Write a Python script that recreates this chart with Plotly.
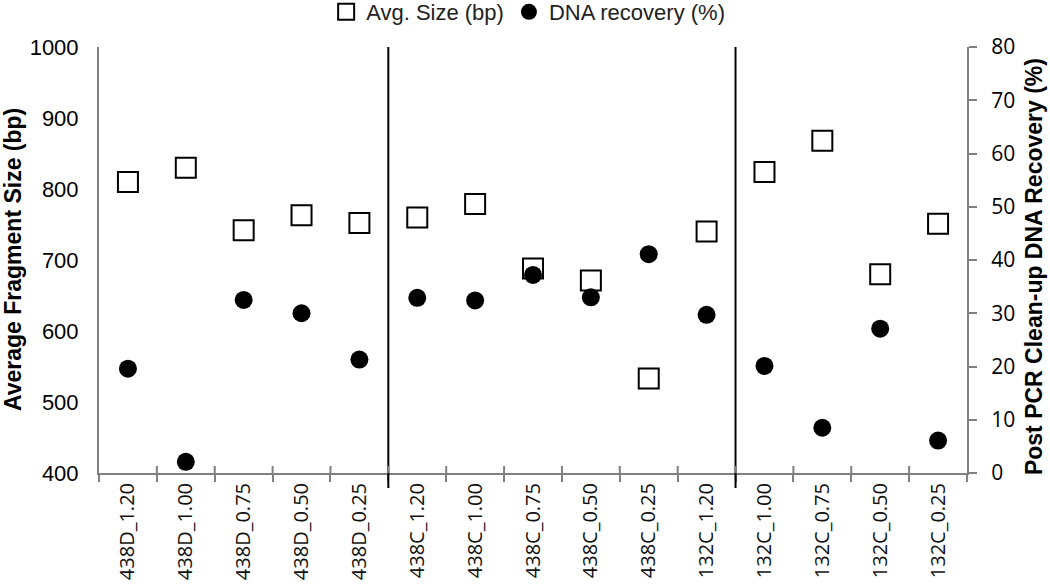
import plotly.graph_objects as go

categories = ["438D_1.20", "438D_1.00", "438D_0.75", "438D_0.50", "438D_0.25",
              "438C_1.20", "438C_1.00", "438C_0.75", "438C_0.50", "438C_0.25",
              "132C_1.20", "132C_1.00", "132C_0.75", "132C_0.50", "132C_0.25"]
avg_size = [810, 830, 742, 763, 752, 760, 779, 688, 671, 533, 740, 824, 868, 680, 751]
recovery = [19.6, 2.1, 32.5, 30.0, 21.3, 32.9, 32.4, 37.2, 33.0, 41.1, 29.7, 20.1, 8.5, 27.1, 6.1]
group_breaks = [4.5, 10.5]

FONT = "Liberation Sans, Arial, sans-serif"
AXIS_GRAY = "#808080"

fig = go.Figure()
fig.add_trace(go.Scatter(
    x=categories, y=avg_size, mode="markers", name="Avg. Size (bp)",
    marker=dict(symbol="square", size=20, color="white", line=dict(color="black", width=2)),
    yaxis="y"))
fig.add_trace(go.Scatter(
    x=categories, y=recovery, mode="markers", name="DNA recovery (%)",
    marker=dict(symbol="circle", size=18, color="black", line=dict(width=0)),
    yaxis="y2"))

shapes = []
for b in group_breaks:
    shapes.append(dict(type="line", xref="x", yref="paper", x0=b, x1=b, y0=-0.035, y1=1,
                       line=dict(color="black", width=2)))
# inner half of crossing x ticks
for k in range(1, len(categories)):
    shapes.append(dict(type="line", xref="x", yref="paper", x0=k - 0.5, x1=k - 0.5,
                       y0=0, y1=7 / 426, line=dict(color=AXIS_GRAY, width=2)))

annotations = [
    dict(text="<b>Average Fragment Size (bp)</b>", xref="paper", yref="paper",
         x=-0.099, y=0.5, xanchor="center", yanchor="middle", textangle=-90,
         showarrow=False, font=dict(size=23, color="black")),
    dict(text="<b>Post PCR Clean-up DNA Recovery (%)</b>", xref="paper", yref="paper",
         x=1.078, y=0.485, xanchor="center", yanchor="middle", textangle=-90,
         showarrow=False, font=dict(size=23, color="black")),
]

fig.update_layout(
    width=1050, height=587,
    margin=dict(l=99, r=83, t=47, b=114, autoexpand=False),
    plot_bgcolor="white", paper_bgcolor="white",
    font=dict(family=FONT, color="black", size=21),
    showlegend=True,
    legend=dict(orientation="h", x=0.503, xanchor="center", xref="container",
                y=1 - 12 / 587, yanchor="middle", yref="container",
                font=dict(size=22, color="#222222"), itemwidth=30, tracegroupgap=0,
                bgcolor="rgba(0,0,0,0)"),
    xaxis=dict(type="category", categoryorder="array", categoryarray=categories,
               range=[-0.5, len(categories) - 0.5], automargin=False,
               showline=True, linecolor=AXIS_GRAY, linewidth=2,
               ticks="outside", ticklen=7, tickwidth=2, tickcolor=AXIS_GRAY,
               tickson="boundaries", tickangle=-90, showgrid=False, zeroline=False,
               tickfont=dict(size=20, family="Open Sans, sans-serif", color="#111111")),
    yaxis=dict(range=[400, 1000], tickvals=[400, 500, 600, 700, 800, 900, 1000],
               automargin=False,
               showline=True, linecolor=AXIS_GRAY, linewidth=2,
               ticks="outside", ticklen=14, tickcolor="rgba(0,0,0,0)",
               showgrid=False, zeroline=False, tickfont=dict(size=22)),
    yaxis2=dict(range=[0, 80], tickvals=[0, 10, 20, 30, 40, 50, 60, 70, 80],
                overlaying="y", side="right", automargin=False,
                showline=True, linecolor=AXIS_GRAY, linewidth=2,
                ticks="outside", ticklen=8, tickwidth=2, tickcolor=AXIS_GRAY,
                ticklabelstandoff=10,
                showgrid=False, zeroline=False,
                tickfont=dict(size=21, family="Open Sans, sans-serif")),
    shapes=shapes,
    annotations=annotations,
)

fig.write_html("out.html", config={"displayModeBar": False},
               post_script="document.body.style.margin='0px';")
